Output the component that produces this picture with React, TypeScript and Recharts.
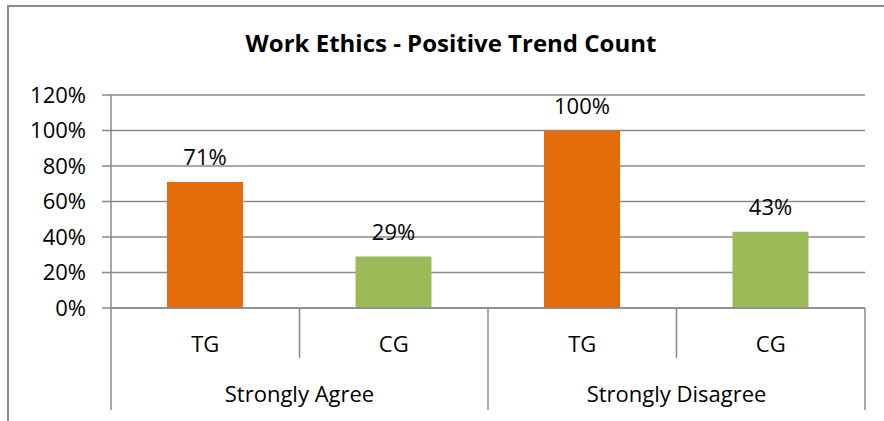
import { BarChart, Bar, XAxis, YAxis, CartesianGrid, Cell, LabelList } from 'recharts';

const groups = ['Strongly Agree', 'Strongly Disagree'];
const subgroups = ['TG', 'CG'];
const values = [0.71, 0.29, 1.0, 0.43];
const yTicks = [0, 0.2, 0.4, 0.6, 0.8, 1.0, 1.2];

const COLORS = ['#E46C0A', '#9BBB59'];
const GRID = '#8a8a8a';
const FONT = "'Open Sans', 'Noto Sans', sans-serif";
const FS = 22;

const W = 884;
const H = 421;
const PLOT_LEFT = 111;
const PLOT_RIGHT = 865;
const BAND = (PLOT_RIGHT - PLOT_LEFT) / values.length;

const data = values.map((v, i) => ({
  key: String(i),
  sub: subgroups[i % 2],
  group: groups[Math.floor(i / 2)],
  value: v,
}));

const pct = (v: number) => `${Math.round(v * 100)}%`;

function CategoryTick(props: any) {
  const { x, y, index } = props;
  const d = data[index];
  if (!d) return null;
  const left = x - BAND / 2;
  const right = x + BAND / 2;
  return (
    <g>
      <line x1={left} y1={y} x2={left} y2={y + (index % 2 === 0 ? 102 : 50)} stroke={GRID} strokeWidth={1.5} />
      {index === data.length - 1 && (
        <line x1={right} y1={y} x2={right} y2={y + 102} stroke={GRID} strokeWidth={1.5} />
      )}
      <text x={x} y={y + 35} textAnchor="middle" dominantBaseline="central" fill="#000" fontSize={FS}>
        {d.sub}
      </text>
      {index % 2 === 0 && (
        <text x={right} y={y + 85} textAnchor="middle" dominantBaseline="central" fill="#000" fontSize={FS}>
          {d.group}
        </text>
      )}
    </g>
  );
}

export default function App() {
  return (
    <div style={{ position: 'relative', width: W, height: H, overflow: 'hidden', fontFamily: FONT }}>
      <style>{'body{margin:0}'}</style>
      <div
        style={{
          position: 'absolute', left: 7, top: 5, width: 1000, height: 600,
          borderLeft: `2px solid ${GRID}`, borderTop: `2px solid ${GRID}`,
          boxSizing: 'border-box', zIndex: 2,
        }}
      />
      <div
        style={{
          position: 'absolute', left: 7, top: 26, width: 888, textAlign: 'center',
          fontWeight: 'bold', fontSize: 24, color: '#000',
        }}
      >
        Work Ethics - Positive Trend Count
      </div>
      <div style={{ position: 'absolute', left: 0, top: 0 }}>
        <BarChart
          width={W}
          height={H}
          data={data}
          margin={{ top: 95, right: W - PLOT_RIGHT, bottom: 0, left: 11 }}
        >
          <CartesianGrid horizontal vertical={false} stroke={GRID} strokeWidth={1.5} />
          <YAxis
            width={100}
            domain={[0, 1.2]}
            ticks={yTicks}
            tickFormatter={pct}
            axisLine={{ stroke: GRID, strokeWidth: 1.5 }}
            tickLine={{ stroke: GRID, strokeWidth: 1.5 }}
            tickSize={9}
            tickMargin={16}
            tick={{ fill: '#000', fontSize: FS }}
          />
          <XAxis
            dataKey="key"
            height={113}
            interval={0}
            axisLine={{ stroke: GRID, strokeWidth: 1.5 }}
            tickLine={false}
            tickSize={0}
            tickMargin={0}
            tick={<CategoryTick />}
          />
          <Bar dataKey="value" isAnimationActive={false} barSize={76}>
            {data.map((d, i) => (
              <Cell key={d.key} fill={COLORS[i % 2]} />
            ))}
            <LabelList dataKey="value" position="top" offset={17} formatter={(v: any) => pct(Number(v))} fill="#000" fontSize={FS} />
          </Bar>
        </BarChart>
      </div>
    </div>
  );
}
